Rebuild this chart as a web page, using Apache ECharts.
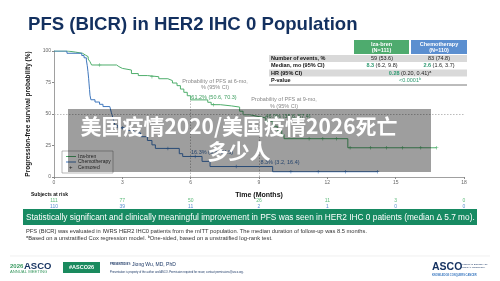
<!DOCTYPE html>
<html style="height: 100%">
<head>
    <meta charset="utf-8">
    <script src="https://cdn.jsdelivr.net/npm/echarts@6/dist/echarts.min.js"></script>
    <title>PFS (BICR) in HER2 IHC 0 Population</title>
</head>
<body style="height: 100%; margin: 0; background: #fff">
<div id="container" style="width: 500px; height: 281px"></div>
<script type="text/javascript">
    // Kaplan-Meier steps: [month, survival %] (level after each drop)
    let izaBren = [
        [0, 100], [0.6, 99.1], [0.95, 98.2], [1.25, 96.8], [1.38, 95.5], [1.5, 93.6], [1.58, 91.5],
        [1.65, 88.9], [2.75, 87.6], [2.85, 86.2], [3.0, 84.9], [3.4, 82.1], [3.7, 80.5], [4.1, 79.6],
        [4.6, 78.0], [5.0, 76.5], [5.2, 74.6], [5.4, 72.5], [5.55, 69.8], [5.7, 67.2], [5.85, 64.5],
        [6.0, 61.2], [6.75, 59.3], [6.9, 57.4], [7.3, 56.4], [7.8, 55.5], [8.15, 52.2], [8.3, 49.4],
        [8.6, 47.9], [9.0, 46.9], [9.3, 44.2], [9.6, 40.3], [9.8, 37.1], [10.0, 33.8], [10.1, 30.4],
        [12.9, 23.2], [16.8, 23.2]
    ]
    let chemo = [
        [0, 100], [0.57, 98.2], [1.22, 96.4], [1.32, 94.6], [1.42, 92.8], [1.46, 88.3], [1.49, 83.8],
        [1.52, 78.4], [1.54, 73.9], [1.56, 69.4], [1.58, 64.9], [1.62, 61.3], [1.8, 59.5], [2.0, 57.7],
        [2.15, 55.9], [2.45, 54.5], [2.52, 51.0], [2.6, 46.0], [2.68, 41.0], [2.8, 39.0], [3.2, 37.0],
        [3.5, 35.0], [3.8, 32.0], [4.1, 29.0], [4.3, 25.5], [4.45, 22.7], [5.5, 18.5], [5.65, 16.3],
        [6.5, 12.4], [6.85, 8.3], [9.6, 4.2], [14.2, 4.2]
    ]
    let izaCensored = [[2.0, 88.9], [4.3, 79.6], [7.0, 57.4], [11.2, 30.4], [11.8, 30.4], [12.4, 30.4],
        [13.0, 23.2], [13.9, 23.2], [14.6, 23.2], [15.3, 23.2], [16.1, 23.2], [16.8, 23.2]]
    let chemoCensored = [[3.0, 39.0], [5.0, 22.7], [6.2, 16.3], [8.0, 8.3], [10.4, 4.2], [11.6, 4.2],
        [12.8, 4.2], [14.2, 4.2]]

    let riskMonths = [0, 3, 6, 9, 12, 15, 18]
    let riskIza = [111, 77, 50, 26, 11, 3, 0]
    let riskChemo = [110, 39, 11, 2, 1, 0, 0]

    let tableRows = ['Number of events, %', 'Median, mo (95% CI)', 'HR (95% CI)', 'P-value']

    const GREEN = '#4fae6c', BLUE = '#3f77bd', FONT = '"Liberation Sans", Arial, sans-serif'
    const plus = 'path://M4,0H6V4H10V6H6V10H4V6H0V4H4Z'

    function txt(x, y, s, size, color, extra) {
        return {
            type: 'text', x: x, y: y, z: 20,
            style: Object.assign({text: s, fontSize: size, fill: color, fontFamily: FONT,
                textVerticalAlign: 'middle'}, extra || {})
        }
    }

    let dom = document.getElementById('container')
    let chart = echarts.init(dom, null, {renderer: 'canvas'})

    let g = []
    // title
    g.push(txt(28, 25, 'PFS (BICR) in HER2 IHC 0 Population', 18.6, '#13305f', {fontWeight: 'bold'}))
    // table header
    g.push({type: 'rect', shape: {x: 354, y: 40, width: 55, height: 14}, style: {fill: '#4eab6e'}, z: 10})
    g.push({type: 'rect', shape: {x: 411, y: 40, width: 56, height: 14}, style: {fill: '#5b8fd0'}, z: 10})
    g.push(txt(381.5, 44, 'Iza-bren', 5.5, '#fff', {fontWeight: 'bold', textAlign: 'center'}))
    g.push(txt(381.5, 50.5, '(N=111)', 5.5, '#fff', {fontWeight: 'bold', textAlign: 'center'}))
    g.push(txt(439, 44, 'Chemotherapy', 5.5, '#fff', {fontWeight: 'bold', textAlign: 'center'}))
    g.push(txt(439, 50.5, '(N=110)', 5.5, '#fff', {fontWeight: 'bold', textAlign: 'center'}))
    let rowY = [55, 62, 69.5, 77]
    rowY.forEach(function (y, i) {
        if (i % 2 === 0) {
            g.push({type: 'rect', shape: {x: 269, y: y, width: 198, height: 7}, style: {fill: '#d9d9d9'}, z: 10})
        }
        g.push(txt(271, y + 3.6, tableRows[i], 5.5, '#111', {fontWeight: 'bold'}))
    })
    g.push({type: 'line', shape: {x1: 269, y1: 85, x2: 467, y2: 85}, style: {stroke: '#555', lineWidth: 0.8}, z: 10})
    g.push(txt(382, 58.6, '59 (53.6)', 5.5, '#222', {textAlign: 'center'}))
    g.push(txt(439, 58.6, '83 (74.8)', 5.5, '#222', {textAlign: 'center'}))
    let richB = {b: {fontWeight: 'bold', fill: '#2f9a72', fontSize: 5.5, fontFamily: FONT}}
    g.push(txt(382, 65.8, '{b|8.3} (6.2, 9.8)', 5.5, '#222', {textAlign: 'center', rich: richB}))
    g.push(txt(439, 65.8, '{b|2.6} (1.6, 3.7)', 5.5, '#222', {textAlign: 'center', rich: richB}))
    g.push(txt(410, 73.2, '{b|0.28} (0.20, 0.41)ᵃ', 5.5, '#222', {textAlign: 'center', rich: richB}))
    g.push(txt(410, 80.8, '<0.0001ᵇ', 5.5, '#2f9a72', {textAlign: 'center'}))

    // annotations inside plot
    g.push(txt(215, 81, 'Probability of PFS at 6-mo,', 5.5, '#888', {textAlign: 'center'}))
    g.push(txt(215, 87.5, '% (95% CI)', 5.5, '#888', {textAlign: 'center'}))
    g.push(txt(214, 97, '61.2% (50.6, 70.3)', 5.5, '#3f9e60', {textAlign: 'center'}))
    g.push(txt(284, 99.5, 'Probability of PFS at 9-mo,', 5.5, '#888', {textAlign: 'center'}))
    g.push(txt(284, 106, '% (95% CI)', 5.5, '#888', {textAlign: 'center'}))
    g.push(txt(288, 116.5, '46.9% (35.6, 57.4)', 5.5, '#3f9e60', {textAlign: 'center'}))
    g.push(txt(191, 152.5, '16.3% (9.6, 24.5)', 5.5, '#3f6fae'))
    g.push(txt(280, 162, '8.3% (3.2, 16.4)', 5.5, '#3f6fae', {textAlign: 'center'}))

    // legend box
    g.push({type: 'rect', shape: {x: 62, y: 151, width: 51, height: 22}, style: {fill: '#fff', stroke: '#888', lineWidth: 0.6}, z: 15})
    g.push({type: 'line', shape: {x1: 66, y1: 156.5, x2: 76, y2: 156.5}, style: {stroke: GREEN, lineWidth: 1}, z: 16})
    g.push({type: 'line', shape: {x1: 66, y1: 162, x2: 76, y2: 162}, style: {stroke: BLUE, lineWidth: 1}, z: 16})
    g.push(txt(69, 167.5, '+', 6, '#333'))
    g.push(txt(78, 156.5, 'Iza-bren', 5, '#333'))
    g.push(txt(78, 162, 'Chemotherapy', 5, '#333'))
    g.push(txt(78, 167.5, 'Censored', 5, '#333'))

    g.push(txt(31, 195, 'Subjects at risk', 5, '#111', {fontWeight: 'bold'}))

    // banner and footnotes
    g.push({type: 'rect', shape: {x: 23, y: 209, width: 454, height: 16}, style: {fill: '#178a62'}, z: 10})
    g.push(txt(26, 217.5, 'Statistically significant and clinically meaningful improvement in PFS was seen in HER2 IHC 0 patients (median Δ 5.7 mo).',
        8.3, '#fff'))
    g.push(txt(26, 231, 'PFS (BICR) was evaluated in IWRS HER2 IHC0 patients from the mITT population. The median duration of follow-up was 8.5 months.',
        5.75, '#333'))
    g.push(txt(26, 238, 'ᵃBased on a unstratified Cox regression model. ᵇOne-sided, based on a unstratified log-rank test.',
        5.75, '#333'))

    // footer
    g.push({type: 'line', shape: {x1: 10, y1: 256, x2: 490, y2: 256}, style: {stroke: '#e6e6e6', lineWidth: 0.6}, z: 10})
    g.push(txt(10, 266.5, '2026', 6, '#3b9a62', {fontWeight: 'bold'}))
    g.push(txt(24, 266, 'ASCO', 9.5, '#13305f', {fontWeight: 'bold'}))
    g.push(txt(10, 272, 'ANNUAL MEETING', 4.2, '#3b9a62'))
    g.push({type: 'rect', shape: {x: 63, y: 262, width: 37, height: 11}, style: {fill: '#1a8a5e'}, z: 10})
    g.push(txt(81.5, 267.5, '#ASCO26', 5.5, '#fff', {fontWeight: 'bold', textAlign: 'center'}))
    g.push(txt(110, 264.7, 'PRESENTED BY:', 2.6, '#13305f', {fontWeight: 'bold'}))
    g.push(txt(132, 264.5, 'Jiong Wu, MD, PhD', 5, '#13305f'))
    g.push(txt(110, 272, 'Presentation is property of the author and ASCO. Permission required for reuse; contact permissions@asco.org.',
        2.7, '#13305f'))
    g.push(txt(432, 267, 'ASCO', 10.5, '#13305f', {fontWeight: 'bold'}))
    g.push(txt(461, 264.5, 'AMERICAN SOCIETY OF', 2.3, '#13305f'))
    g.push(txt(461, 267.5, 'CLINICAL ONCOLOGY', 2.3, '#13305f'))
    g.push(txt(432, 275, 'KNOWLEDGE CONQUERS CANCER', 2.6, '#3a78c0', {fontWeight: 'bold'}))

    // overlay watermark
    let cjk = '"Noto Sans CJK SC", sans-serif'
    g.push({type: 'rect', shape: {x: 68, y: 109, width: 363, height: 63}, style: {fill: 'rgba(0,0,0,0.38)'}, z: 50})
    g.push({type: 'text', x: 239, y: 126, z: 51, style: {text: '美国疫情2020/美国疫情2026死亡', fontSize: 21,
        fontWeight: 'bold', fill: '#fff', fontFamily: cjk, textAlign: 'center', textVerticalAlign: 'middle'}})
    g.push({type: 'text', x: 239, y: 151, z: 51, style: {text: '多少人', fontSize: 21,
        fontWeight: 'bold', fill: '#fff', fontFamily: cjk, textAlign: 'center', textVerticalAlign: 'middle'}})

    let dashStyle = {color: '#aaa', type: [1.5, 1.5], width: 0.8}
    chart.setOption({
        animation: false,
        textStyle: {fontFamily: FONT},
        grid: {left: 54, right: 36, top: 51, bottom: 104},
        xAxis: {
            type: 'value', min: 0, max: 18, interval: 3,
            name: 'Time (Months)', nameLocation: 'middle', nameGap: 15,
            nameTextStyle: {fontSize: 7, fontWeight: 'bold', color: '#111'},
            axisLine: {lineStyle: {color: '#888', width: 0.8}},
            axisTick: {length: 2, lineStyle: {color: '#888'}},
            axisLabel: {fontSize: 5, color: '#666', margin: 3},
            splitLine: {show: false}
        },
        yAxis: {
            type: 'value', min: 0, max: 100, interval: 25,
            name: 'Progression-free survival probability (%)', nameLocation: 'middle', nameGap: 15,
            nameTextStyle: {fontSize: 6.5, fontWeight: 'bold', color: '#111'},
            axisLine: {show: true, lineStyle: {color: '#888', width: 0.8}},
            axisTick: {show: true, length: 2, lineStyle: {color: '#888'}},
            axisLabel: {fontSize: 5, color: '#666', margin: 3},
            splitLine: {show: false}
        },
        series: [
            {
                type: 'line', data: izaBren, step: 'end', showSymbol: false,
                lineStyle: {color: GREEN, width: 1}, z: 3,
                markLine: {
                    silent: true, symbol: 'none', label: {show: false}, lineStyle: dashStyle,
                    data: [
                        [{coord: [0, 50]}, {coord: [18, 50]}],
                        [{coord: [6, 0]}, {coord: [6, 61.2]}],
                        [{coord: [9, 0]}, {coord: [9, 46.9]}]
                    ]
                }
            },
            {
                type: 'line', data: chemo, step: 'end', showSymbol: false,
                lineStyle: {color: BLUE, width: 1}, z: 3
            },
            {
                type: 'scatter', data: izaCensored, symbol: plus, symbolSize: 3.5,
                itemStyle: {color: GREEN}, z: 4
            },
            {
                type: 'scatter', data: chemoCensored, symbol: plus, symbolSize: 3.5,
                itemStyle: {color: BLUE}, z: 4
            }
        ]
    }, true)

    // numbers at risk placed with the x axis scale
    riskMonths.forEach(function (m, i) {
        let px = chart.convertToPixel({gridIndex: 0}, [m, 0])[0]
        g.push(txt(px, 201, String(riskIza[i]), 5, '#5dba7a', {textAlign: 'center'}))
        g.push(txt(px, 207, String(riskChemo[i]), 5, '#5b8fd0', {textAlign: 'center'}))
    })
    chart.setOption({graphic: {elements: g}})
</script>
</body>
</html>
